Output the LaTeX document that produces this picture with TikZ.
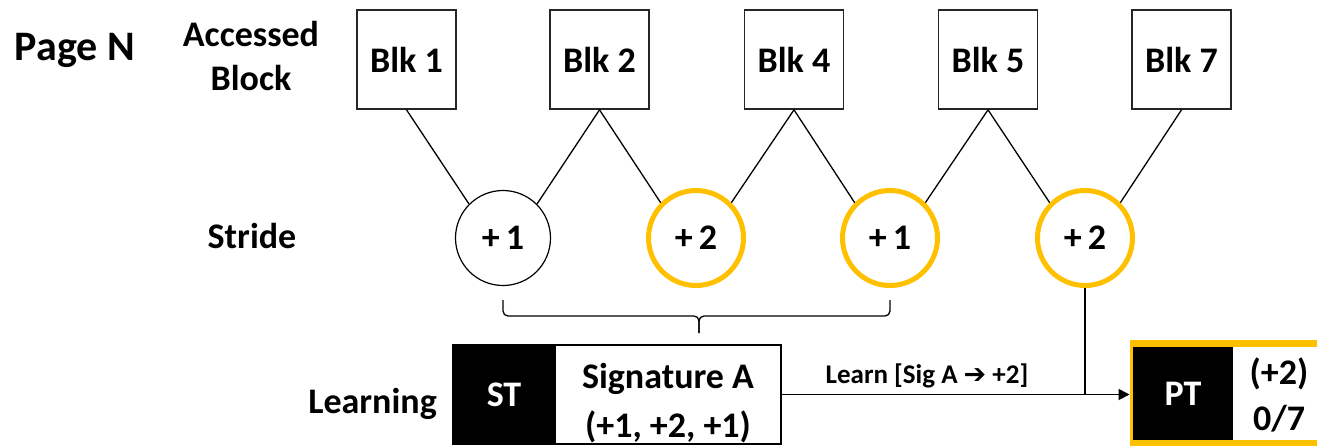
\documentclass[tikz,border=0pt]{standalone}
\usepackage{fontspec}
\setmainfont{Carlito}
\newfontfamily\arrowfont{DejaVu Sans}
\usetikzlibrary{arrows.meta}
\definecolor{ringgold}{HTML}{FFC000}
\begin{document}
\begin{tikzpicture}[x=1pt,y=-1pt,
  big/.style={font=\fontsize{36}{40}\selectfont\bfseries, inner sep=0pt},
  blk/.style={big, draw=black!85, line width=1.6pt, minimum width=99pt, minimum height=99pt},
  stridec/.style={big, circle, draw, line width=1.2pt, minimum size=95pt},
  hotc/.style={big, circle, draw=ringgold, line width=5pt, minimum size=95pt},
  link/.style={line width=1.3pt},
  lbl/.style={big, anchor=base},
]
\useasboundingbox (0,0) rectangle (1317,445);
\clip (0,0) rectangle (1317,445);

% row labels
\node[lbl, font=\fontsize{42}{48}\selectfont\bfseries] (page) at (75,60) {Page N};
\node[lbl] (acc1) at (251,46) {Accessed};
\node[lbl] (acc2) at (251,90) {Block};
\node[lbl] (stride) at (252,248) {Stride};
\node[lbl, anchor=base east] (learning) at (437,413) {Learning};

% accessed blocks
\node[blk] (b1) at (406.5,59.5) {Blk 1};
\node[blk] (b2) at (599.5,59.5) {Blk 2};
\node[blk] (b4) at (794,59.5) {Blk 4};
\node[blk] (b5) at (988,59.5) {Blk 5};
\node[blk] (b7) at (1181.5,59.5) {Blk 7};

% strides between consecutive blocks
\node[stridec] (c1) at (503,238) {+\,1};
\node[hotc] (c2) at (696,238) {+\,2};
\node[hotc] (c3) at (890,238) {+\,1};
\node[hotc] (c4) at (1085,238) {+\,2};

\draw[link] (b1.south) -- (c1.north west);
\draw[link] (b2.south) -- (c1.north east);
\draw[link] (b2.south) -- (c2.north west);
\draw[link] (b4.south) -- (c2.north east);
\draw[link] (b4.south) -- (c3.north west);
\draw[link] (b5.south) -- (c3.north east);
\draw[link] (b5.south) -- (c4.north west);
\draw[link] (b7.south) -- (c4.north east);

% brace grouping the first three strides
\coordinate (brL) at (503,300);
\coordinate (brR) at (890,300);
\coordinate (brT) at (699,333);
\draw[link, rounded corners=5pt] (brL) -- (brL |- 0,316) -- (brT |- 0,316) -- (brT);
\draw[link, rounded corners=5pt] (brR) -- (brR |- 0,316) -- (brT |- 0,316) -- (brT);

% signature table entry
\node[big, fill=black, text=white, minimum width=102pt, minimum height=99pt] (st) at (504,394.5) {ST};
\node[draw, line width=1.8pt, minimum width=226pt, minimum height=99pt, inner sep=0pt] (sig) at (668,394.5) {};
\draw[line width=1.8pt] (st.north west) rectangle (st.south east);
\node[lbl] (sigA) at (668,388) {Signature A};
\node[lbl] (sigB) at (668,437) {(+1, +2, +1)};

% pattern table entry (runs off the right edge)
\node[draw=ringgold, fill=white, line width=7pt, minimum width=300pt, minimum height=100pt, inner sep=0pt, anchor=west] (pt) at (1129.5,393.5) {};
\node[big, fill=black, text=white, minimum width=100pt, minimum height=93pt] (ptlab) at (1183,393.5) {PT};
\node[lbl] (ptA) at (1279,384) {(+2)};
\node[lbl] (ptB) at (1279,430) {0/7};

% learning path
\draw[line width=1.8pt, -{Triangle[length=11pt,width=11pt]}] (sig.east) -- (sig.east -| pt.west);
\draw[line width=1.3pt] (c4.south) -- (c4.south |- sig.east);
\node[anchor=base, font=\fontsize{27}{30}\selectfont\bfseries, inner sep=0pt] (learnlbl) at (927,383) {Learn [Sig A {\arrowfont\bfseries ➔} +2]};
\end{tikzpicture}
\end{document}
